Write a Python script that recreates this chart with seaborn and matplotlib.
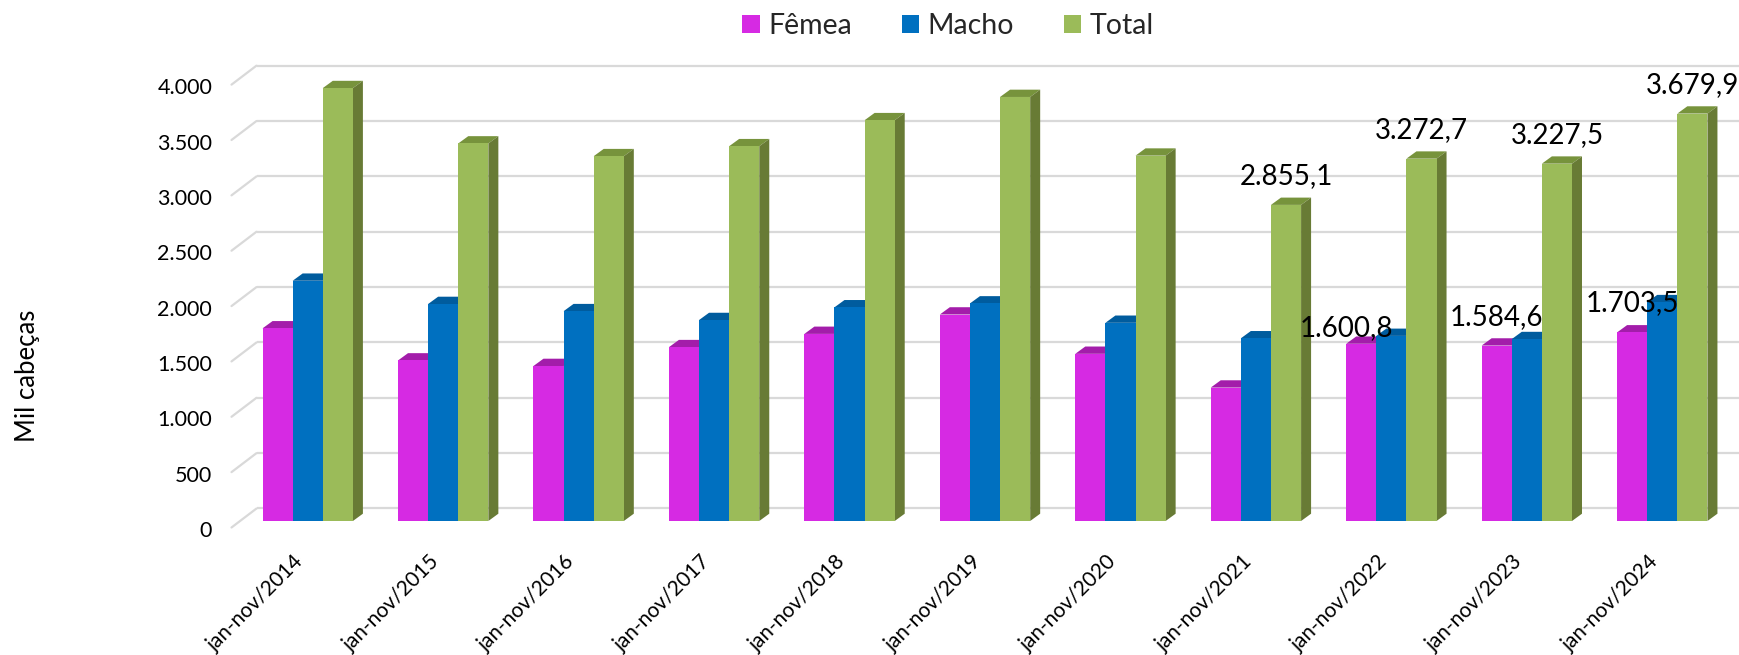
import numpy as np
import pandas as pd
import seaborn as sns
import matplotlib
matplotlib.use("Agg")
import matplotlib.pyplot as plt
from matplotlib.patches import Polygon
from matplotlib.transforms import ScaledTranslation

# ---- data (mil cabeças) ----
periods = ["jan-nov/2014", "jan-nov/2015", "jan-nov/2016", "jan-nov/2017",
           "jan-nov/2018", "jan-nov/2019", "jan-nov/2020", "jan-nov/2021",
           "jan-nov/2022", "jan-nov/2023", "jan-nov/2024"]
femea = [1740, 1450, 1400, 1570, 1690, 1865, 1510, 1205, 1600.8, 1584.6, 1703.5]
macho = [2170, 1960, 1895, 1815, 1930, 1965, 1790, 1650, 1671.9, 1642.9, 1976.4]
total = [3910, 3410, 3295, 3385, 3620, 3830, 3300, 2855.1, 3272.7, 3227.5, 3679.9]
series_names = ["Fêmea", "Macho", "Total"]
y_ticks = [0, 500, 1000, 1500, 2000, 2500, 3000, 3500, 4000]

# periods whose values are written above the bars
labelled = {"Fêmea": ["jan-nov/2022", "jan-nov/2023", "jan-nov/2024"],
            "Total": ["jan-nov/2021", "jan-nov/2022", "jan-nov/2023", "jan-nov/2024"]}

front_colors = {"Fêmea": "#D62AE3", "Macho": "#0070C0", "Total": "#9BBB59"}
top_colors = {"Fêmea": "#A31DAA", "Macho": "#005C9E", "Total": "#77933C"}
side_colors = {"Fêmea": "#8A178F", "Macho": "#004F86", "Total": "#687B35"}

df = pd.DataFrame({
    "periodo": periods * 3,
    "serie": sum([[s] * len(periods) for s in series_names], []),
    "valor": femea + macho + total,
})

W, H, DPI = 1739, 655, 100
sns.set_theme(style="white")
plt.rcParams["font.family"] = ["Lato", "DejaVu Sans"]

fig = plt.figure(figsize=(W / DPI, H / DPI), dpi=DPI)
ax = fig.add_axes([240 / W, 134 / H, 1490 / W, 465 / H])

sns.barplot(data=df, x="periodo", y="valor", hue="serie", order=periods,
            hue_order=series_names, palette=front_colors, width=0.667, gap=0,
            saturation=1, linewidth=0, ax=ax, zorder=3)
ax.set_xlim(-0.5, len(periods) - 0.5)
ax.set_ylim(0, 4200)
for s in ax.spines.values():
    s.set_visible(False)
ax.set_xlabel("")
ax.set_ylabel("")

# pixel offsets -> data offsets
def px_to_data(dx, dy):
    p0 = ax.transData.transform((0, 0))
    q = ax.transData.inverted().transform(p0 + np.array([dx, dy]))
    return q[0], q[1]

# bar depth (front face -> back face) and wall depth
bdx, bdy = px_to_data(10, 7.3)
wfx, wfy = px_to_data(-8.5, -6.5)     # front edge of floor relative to bar base
wbx, wby = px_to_data(16.5, 12.5)     # back wall relative to bar base
x_left = -0.5
x_right, _ = ax.transData.inverted().transform((W + 20, 0))

# back-wall gridlines and floor-side diagonals
for v in y_ticks:
    ax.plot([x_left + wbx, x_right], [v + wby, v + wby], color="#D9D9D9",
            lw=1.6, zorder=1, clip_on=False, solid_capstyle="butt")
    ax.plot([x_left + wfx, x_left + wbx], [v + wfy, v + wby], color="#D9D9D9",
            lw=1.6, zorder=1, clip_on=False)

# 3-D top and side faces for every bar
bars = [p for p in ax.patches if p.get_height() > 0 and p.get_width() < 1]
for bar, name in zip(bars, [s for s in series_names for _ in periods]):
    x0, w, h = bar.get_x(), bar.get_width(), bar.get_height()
    top = Polygon([(x0, h), (x0 + w, h), (x0 + w + bdx, h + bdy), (x0 + bdx, h + bdy)],
                  closed=True, facecolor=top_colors[name], edgecolor="none", zorder=2)
    side = Polygon([(x0 + w, 0), (x0 + w + bdx, bdy), (x0 + w + bdx, h + bdy), (x0 + w, h)],
                   closed=True, facecolor=side_colors[name], edgecolor="none", zorder=2)
    ax.add_patch(top)
    ax.add_patch(side)

# value labels
def fmt(v):
    s = f"{v:,.1f}"
    return s.replace(",", "X").replace(".", ",").replace("X", ".")

values = {"Fêmea": femea, "Macho": macho, "Total": total}
label_shift = {("Fêmea", "jan-nov/2022"): (-15, 16)}
for bar, name, per in zip(bars, [s for s in series_names for _ in periods], periods * 3):
    if per in labelled.get(name, []):
        v = values[name][periods.index(per)]
        dx, dy = label_shift.get((name, per), (0, 29))
        ax.annotate(fmt(v), (bar.get_x() + bar.get_width() / 2, v),
                    xytext=(dx * 0.72, dy * 0.72), textcoords="offset points",
                    ha="center", va="center", fontsize=20, color="black",
                    zorder=5, annotation_clip=False)

# y axis ticks (drawn at the floor front edge)
ax.set_yticks(y_ticks)
ax.set_yticklabels([fmt(t)[:-2] for t in y_ticks])
ax.tick_params(axis="y", length=0, pad=20, labelsize=15.5, labelcolor="black")
for lab in ax.get_yticklabels():
    lab.set_transform(lab.get_transform() + ScaledTranslation(0, -8 / DPI, fig.dpi_scale_trans))

ax.tick_params(axis="x", length=0, pad=22, labelsize=15, labelcolor="black")
for lab in ax.get_xticklabels():
    lab.set_rotation(45)
    lab.set_ha("right")
    lab.set_va("top")

fig.text(28 / W, 1 - 376 / H, "Mil cabeças", rotation=90, ha="center", va="center",
         fontsize=18.5, color="black")

handles, labels_ = ax.get_legend_handles_labels()
ax.legend(handles, labels_, loc="center", ncol=3, frameon=False,
          bbox_to_anchor=(948 / W, 1 - 26 / H), bbox_transform=fig.transFigure,
          fontsize=20.5, handlelength=0.6, handleheight=0.6, handletextpad=0.3,
          columnspacing=1.75)

fig.savefig("out.png", dpi=DPI)
